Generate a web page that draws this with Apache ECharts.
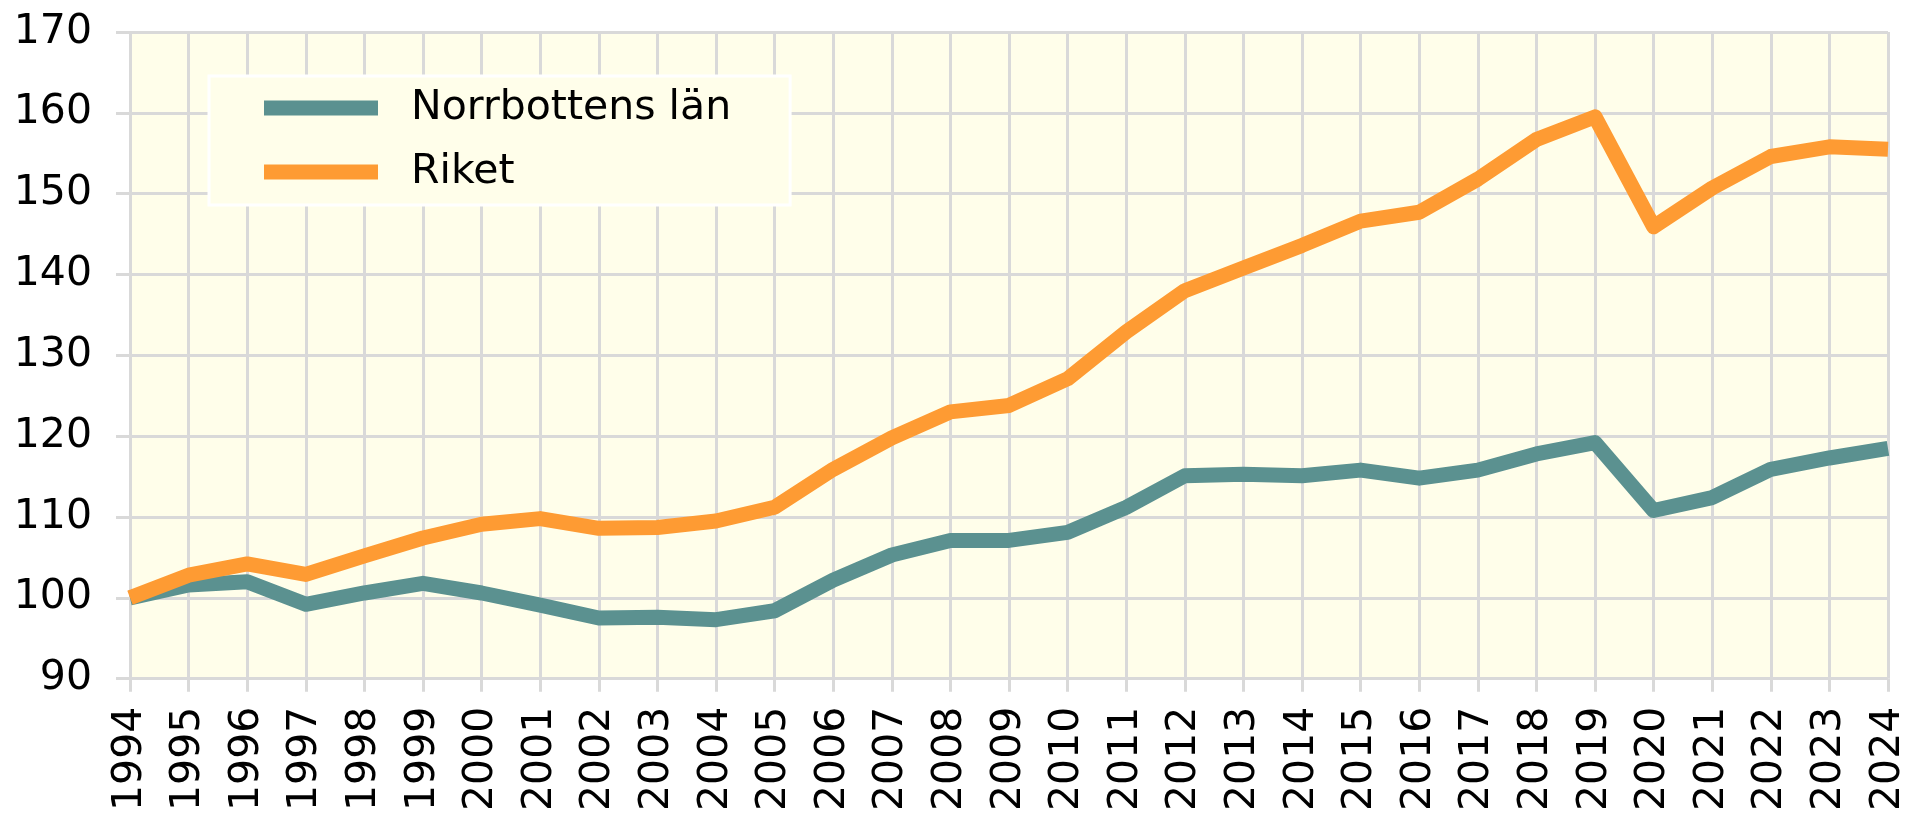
<!DOCTYPE html>
<html>
<head>
<meta charset="utf-8">
<script src="https://cdn.jsdelivr.net/npm/echarts@6/dist/echarts.min.js"></script>
<style>
  html, body { margin: 0; padding: 0; background: #ffffff; }
  #chart { width: 1910px; height: 814px; }
</style>
</head>
<body>
<div id="chart"></div>
<script>
// Index, 1994 = 100
const years = ['1994','1995','1996','1997','1998','1999','2000','2001','2002','2003','2004',
  '2005','2006','2007','2008','2009','2010','2011','2012','2013','2014','2015','2016',
  '2017','2018','2019','2020','2021','2022','2023','2024'];

const norrbotten = [100, 101.6, 102.0, 99.2, 100.6, 101.8, 100.6, 99.1, 97.5, 97.6, 97.3,
  98.4, 102.2, 105.3, 107.1, 107.1, 108.1, 111.2, 115.1, 115.3, 115.1, 115.8, 114.8,
  115.8, 117.8, 119.2, 110.8, 112.4, 115.9, 117.3, 118.5];

const riket = [100, 102.8, 104.2, 102.9, 105.2, 107.4, 109.1, 109.8, 108.6, 108.7, 109.5,
  111.2, 115.9, 119.8, 123.0, 123.8, 127.1, 132.9, 138.0, 140.8, 143.6, 146.6, 147.7,
  151.8, 156.7, 159.5, 145.9, 150.7, 154.6, 155.8, 155.5];

const seriesNames = ['Norrbottens län', 'Riket'];
const seriesColors = ['#5b9190', '#fe9b33'];

const FONT = 'DejaVu Sans';
const GRID_COLOR = '#d9d9d9';

const chart = echarts.init(document.getElementById('chart'), null, { renderer: 'canvas' });

chart.setOption({
  animation: false,
  textStyle: { fontFamily: FONT },
  grid: {
    left: 130, right: 22, top: 32, bottom: 132,
    show: true,
    backgroundColor: '#fffeea',
    borderWidth: 0
  },
  legend: {
    orient: 'vertical',
    left: 209,
    top: 76,
    padding: [7, 59, 8, 55],
    itemGap: 14,
    itemWidth: 114,
    itemHeight: 15,
    icon: 'rect',
    backgroundColor: '#fffeea',
    borderColor: '#ffffff',
    borderWidth: 3,
    data: seriesNames,
    textStyle: {
      fontFamily: FONT,
      fontSize: 41,
      color: '#000000',
      lineHeight: 44,
      padding: [6, 0, 0, 28]
    }
  },
  xAxis: {
    type: 'category',
    data: years,
    boundaryGap: false,
    axisLine: { show: false },
    axisTick: {
      show: true, interval: 0, length: 13,
      lineStyle: { color: GRID_COLOR, width: 3 }
    },
    axisLabel: {
      interval: 0,
      rotate: 90,
      margin: 28,
      fontFamily: FONT,
      fontSize: 41,
      color: '#000000'
    },
    splitLine: {
      show: true, interval: 0,
      lineStyle: { color: GRID_COLOR, width: 3 }
    }
  },
  yAxis: {
    type: 'value',
    min: 90,
    max: 170,
    interval: 10,
    axisLine: { show: false },
    axisTick: {
      show: true, length: 14,
      lineStyle: { color: GRID_COLOR, width: 3 }
    },
    axisLabel: {
      margin: 38,
      fontFamily: FONT,
      fontSize: 41,
      color: '#000000'
    },
    splitLine: {
      show: true,
      lineStyle: { color: GRID_COLOR, width: 3 }
    }
  },
  series: [
    {
      name: seriesNames[0],
      type: 'line',
      data: norrbotten,
      color: seriesColors[0],
      symbol: 'none',
      lineStyle: { width: 15, color: seriesColors[0], join: 'round', cap: 'butt' }
    },
    {
      name: seriesNames[1],
      type: 'line',
      data: riket,
      color: seriesColors[1],
      symbol: 'none',
      lineStyle: { width: 15, color: seriesColors[1], join: 'round', cap: 'butt' }
    }
  ]
});
</script>
</body>
</html>
